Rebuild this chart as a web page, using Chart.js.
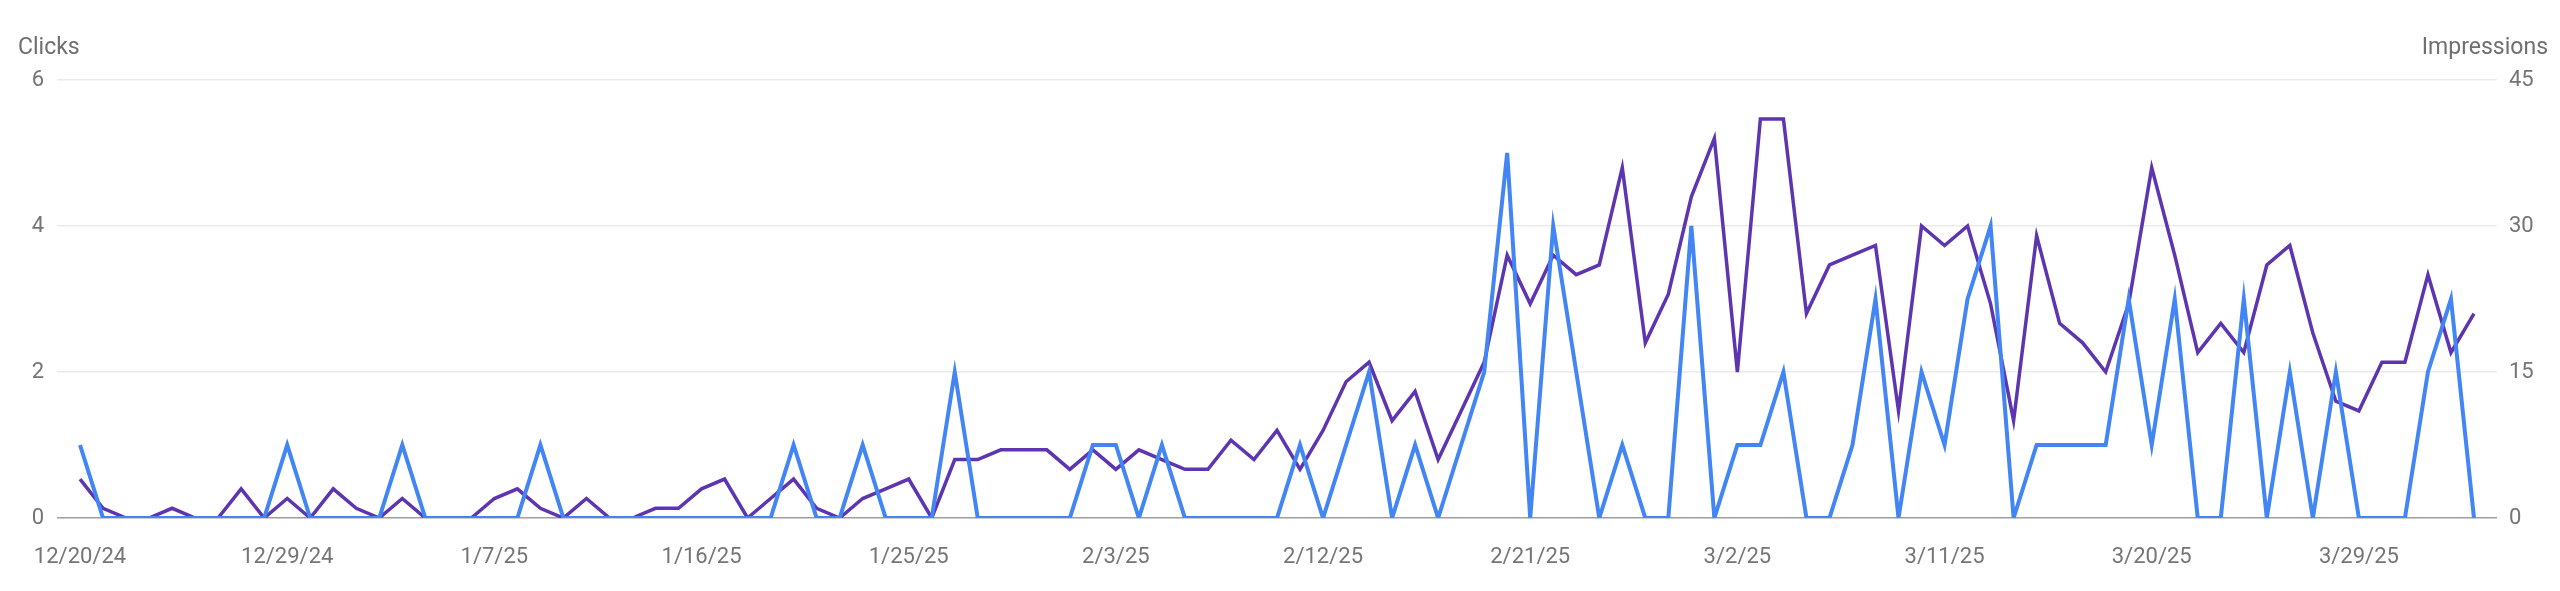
<!DOCTYPE html>
<html>
<head>
<meta charset="utf-8">
<script src="https://cdn.jsdelivr.net/npm/chart.js@4.4.1/dist/chart.umd.min.js"></script>
<style>
  html, body { margin: 0; padding: 0; background: #fff; }
  #wrap { position: relative; width: 2560px; height: 591px; font-family: Roboto, "Noto Sans", sans-serif; }
  #chart { position: absolute; left: 0; top: 0; }
  .axis-title { position: absolute; top: 33px; font-size: 23px; color: #6f6f6f; line-height: 27px; }
  #clicksTitle { left: 18px; }
  #imprTitle { right: 12px; }
</style>
</head>
<body>
<div id="wrap">
  <canvas id="chart" width="2560" height="591"></canvas>
  <div class="axis-title" id="clicksTitle">Clicks</div>
  <div class="axis-title" id="imprTitle">Impressions</div>
</div>
<script>
// Daily data, 12/20/24 .. 4/3/25
const startDate = new Date(2024, 11, 20);
const dayCount = 105;

// Clicks (left axis)
const clicks = [
  1, 0, 0, 0, 0, 0, 0, 0, 0, 1, 0,
  0, 0, 0, 1, 0, 0, 0, 0, 0, 1, 0, 0, 0,
  0, 0, 0, 0, 0, 0, 0, 1, 0, 0, 1, 0, 0,
  0, 2, 0, 0, 0, 0, 0, 1, 1, 0, 1, 0, 0,
  0, 0, 0, 1, 0, 1, 2, 0, 1, 0, 1, 2, 5, 0,
  4, 2, 0, 1, 0, 0, 4, 0, 1, 1, 2, 0, 0,
  1, 3, 0, 2, 1, 3, 4, 0, 1, 1, 1, 1, 3,
  1, 3, 0, 0, 3, 0, 2, 0, 2, 0, 0, 0, 2, 3, 0,
];

// Impressions (right axis)
const impressions = [
  4, 1, 0, 0, 1, 0, 0, 3, 0, 2, 0,
  3, 1, 0, 2, 0, 0, 0, 2, 3, 1, 0, 2, 0,
  0, 1, 1, 3, 4, 0, 2, 4, 1, 0, 2, 3, 4,
  0, 6, 6, 7, 7, 7, 5, 7, 5, 7, 6, 5, 5,
  8, 6, 9, 5, 9, 14, 16, 10, 13, 6, 11, 16, 27, 22,
  27, 25, 26, 36, 18, 23, 33, 39, 15, 41, 41, 21, 26,
  27, 28, 11, 30, 28, 30, 22, 10, 29, 20, 18, 15, 22,
  36, 27, 17, 20, 17, 26, 28, 19, 12, 11, 16, 16, 25, 17, 21,
];

// x tick positions (every 9 days) and axis ticks
const xTickIndex = [0, 9, 18, 27, 36, 45, 54, 63, 72, 81, 90, 99];
const clickTicks = [0, 2, 4, 6];
const imprTicks = [0, 15, 30, 45];

const dayLabels = [];
for (let i = 0; i < dayCount; i++) {
  const d = new Date(startDate.getFullYear(), startDate.getMonth(), startDate.getDate() + i);
  dayLabels.push(`${d.getMonth() + 1}/${d.getDate()}/${String(d.getFullYear()).slice(2)}`);
}

const tickFont = { family: "Roboto, 'Noto Sans', sans-serif", size: 22 };
const tickColor = "#757575";

new Chart(document.getElementById("chart").getContext("2d"), {
  type: "line",
  data: {
    labels: dayLabels.map((_, i) => i),
    datasets: [
      {
        label: "Clicks",
        data: clicks,
        yAxisID: "yClicks",
        borderColor: "#4285f4",
        borderWidth: 4,
        pointRadius: 0,
        tension: 0,
      },
      {
        label: "Impressions",
        data: impressions,
        yAxisID: "yImpr",
        borderColor: "#5e35b1",
        borderWidth: 3.5,
        pointRadius: 0,
        tension: 0,
      },
    ],
  },
  options: {
    responsive: false,
    animation: false,
    layout: { padding: { top: 80, bottom: 0, left: 0, right: 0 } },
    plugins: { legend: { display: false }, tooltip: { enabled: false } },
    scales: {
      x: {
        type: "linear",
        min: -1,
        max: dayCount,
        grid: { display: false, drawTicks: false },
        border: { display: false },
        afterBuildTicks: (scale) => {
          scale.ticks = xTickIndex.map((v) => ({ value: v }));
        },
        afterFit: (scale) => {
          scale.height = 73;
        },
        ticks: {
          autoSkip: false,
          maxRotation: 0,
          padding: 26,
          color: tickColor,
          font: tickFont,
          callback: (v) => dayLabels[v],
        },
      },
      yClicks: {
        position: "left",
        min: 0,
        max: 6,
        afterBuildTicks: (scale) => {
          scale.ticks = clickTicks.map((v) => ({ value: v }));
        },
        afterFit: (scale) => {
          scale.width = 57;
        },
        grid: {
          drawTicks: false,
          lineWidth: 1.5,
          color: (c) => (c.tick.value === 0 ? "#9e9e9e" : "#ebebeb"),
        },
        border: { display: false },
        ticks: { padding: 13, color: tickColor, font: tickFont },
      },
      yImpr: {
        position: "right",
        min: 0,
        max: 45,
        afterBuildTicks: (scale) => {
          scale.ticks = imprTicks.map((v) => ({ value: v }));
        },
        afterFit: (scale) => {
          scale.width = 63;
        },
        grid: { display: false, drawTicks: false },
        border: { display: false },
        ticks: { padding: 12, color: tickColor, font: tickFont },
      },
    },
  },
});
</script>
</body>
</html>
